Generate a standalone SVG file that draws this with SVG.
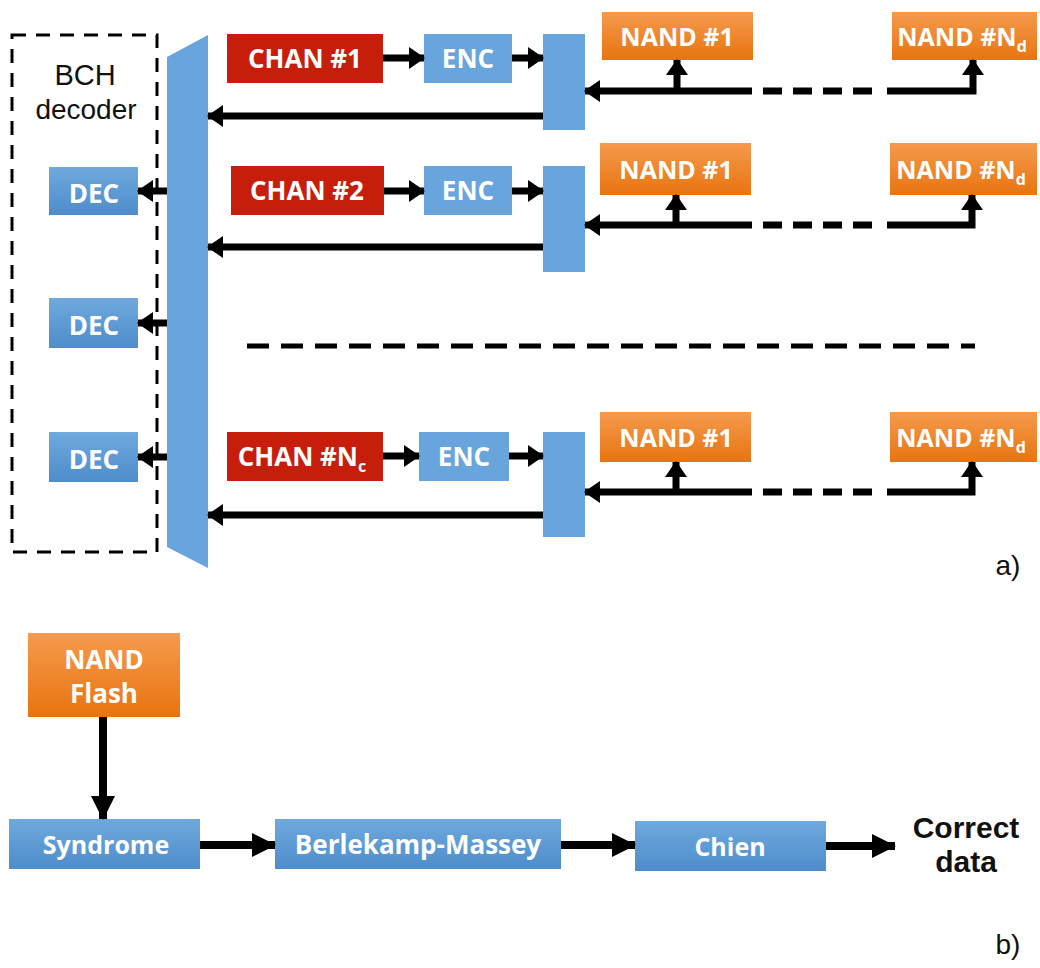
<svg xmlns="http://www.w3.org/2000/svg" width="1040" height="968" viewBox="0 0 1040 968">
  <defs>
    <linearGradient id="gBlue" x1="0" y1="0" x2="0" y2="1">
      <stop offset="0" stop-color="#6fa9dd"/>
      <stop offset="1" stop-color="#4e8dcb"/>
    </linearGradient>
    <linearGradient id="gOrange" x1="0" y1="0" x2="0" y2="1">
      <stop offset="0" stop-color="#f59a4e"/>
      <stop offset="1" stop-color="#e8740f"/>
    </linearGradient>
    <marker id="ah" markerUnits="userSpaceOnUse" markerWidth="16" markerHeight="22" refX="15" refY="11" orient="auto">
      <path d="M0,0 L16,11 L0,22 z" fill="#000"/>
    </marker>
    <marker id="ahBig" markerUnits="userSpaceOnUse" markerWidth="24" markerHeight="24" refX="23" refY="12" orient="auto">
      <path d="M0,0 L24,12 L0,24 z" fill="#000"/>
    </marker>
  </defs>
  <style>
    .blue { fill: url(#gBlue); }
    .flat { fill: #68a5dc; }
    .orange { fill: url(#gOrange); }
    .red { fill: #c71e0c; }
    .lbl { font-family: "Open Sans", "Liberation Sans", sans-serif; font-weight: bold; fill: #fff; text-anchor: middle; }
    .plain { font-family: "Liberation Sans", Arial, sans-serif; fill: #111; text-anchor: middle; }
    .bold { font-family: "Liberation Sans", Arial, sans-serif; font-weight: bold; fill: #111; text-anchor: middle; }
    .arr { stroke: #000; stroke-width: 7; fill: none; marker-end: url(#ah); }
    .arrB { stroke: #000; stroke-width: 8; fill: none; marker-end: url(#ahBig); }
    .dash { stroke: #000; stroke-width: 7; fill: none; stroke-dasharray: 19 11; }
  </style>

  <rect width="1040" height="968" fill="#fff"/>

  <!-- (a) decoder array -->
  <g id="bch-decoder">
    <rect x="12" y="35" width="145" height="517" fill="none" stroke="#000" stroke-width="3" stroke-dasharray="14 10"/>
    <text class="plain" x="85" y="85" font-size="29">BCH</text>
    <text class="plain" x="86" y="119" font-size="28">decoder</text>
  </g>
  <g id="dec1"><rect class="blue" x="49" y="167" width="89" height="48"/><text class="lbl" x="94" y="203" font-size="26">DEC</text></g>
  <g id="dec2"><rect class="blue" x="49" y="298" width="89" height="50"/><text class="lbl" x="94" y="335" font-size="26">DEC</text></g>
  <g id="dec3"><rect class="blue" x="49" y="432" width="89" height="50"/><text class="lbl" x="94" y="469" font-size="26">DEC</text></g>

  <g id="mux">
    <polygon class="flat" points="167,57 208,35 208,568 167,547"/>
  </g>

  <!-- channel 1 -->
  <g id="chan1"><rect class="red" x="227" y="34" width="156" height="49"/><text class="lbl" x="305" y="68" font-size="26">CHAN #1</text></g>
  <g id="enc1"><rect class="flat" x="424" y="34" width="88" height="49"/><text class="lbl" x="468" y="68" font-size="26">ENC</text></g>
  <g id="sel1"><rect class="flat" x="543" y="34" width="42" height="96"/></g>
  <g id="nand1-1"><rect class="orange" x="602" y="12" width="151" height="48"/><text class="lbl" x="677" y="46" font-size="25">NAND #1</text></g>
  <g id="nand1-d"><rect class="orange" x="892" y="12" width="145" height="48"/><text class="lbl" x="962" y="46" font-size="25">NAND #N<tspan font-size="16" dy="6">d</tspan></text></g>

  <!-- channel 2 -->
  <g id="chan2"><rect class="red" x="231" y="166" width="153" height="49"/><text class="lbl" x="307" y="200" font-size="26">CHAN #2</text></g>
  <g id="enc2"><rect class="flat" x="424" y="166" width="88" height="49"/><text class="lbl" x="468" y="200" font-size="26">ENC</text></g>
  <g id="sel2"><rect class="flat" x="543" y="166" width="42" height="106"/></g>
  <g id="nand2-1"><rect class="orange" x="600" y="143" width="151" height="52"/><text class="lbl" x="676" y="179" font-size="25">NAND #1</text></g>
  <g id="nand2-d"><rect class="orange" x="890" y="143" width="147" height="52"/><text class="lbl" x="961" y="179" font-size="25">NAND #N<tspan font-size="16" dy="6">d</tspan></text></g>

  <!-- channel Nc -->
  <g id="chanN"><rect class="red" x="227" y="432" width="156" height="49"/><text class="lbl" x="302" y="466" font-size="26">CHAN #N<tspan font-size="16" dy="6">c</tspan></text></g>
  <g id="encN"><rect class="flat" x="419" y="432" width="90" height="49"/><text class="lbl" x="464" y="466" font-size="26">ENC</text></g>
  <g id="selN"><rect class="flat" x="543" y="432" width="42" height="105"/></g>
  <g id="nandN-1"><rect class="orange" x="600" y="412" width="151" height="50"/><text class="lbl" x="676" y="447" font-size="25">NAND #1</text></g>
  <g id="nandN-d"><rect class="orange" x="890" y="412" width="147" height="50"/><text class="lbl" x="961" y="447" font-size="25">NAND #N<tspan font-size="16" dy="6">d</tspan></text></g>

  <!-- (b) decoding pipeline -->
  <g id="nand-flash"><rect class="orange" x="28" y="633" width="152" height="84"/><text class="lbl" x="104" y="669" font-size="26">NAND</text><text class="lbl" x="104" y="703" font-size="26">Flash</text></g>
  <g id="syndrome"><rect class="blue" x="9" y="819" width="191" height="50"/><text class="lbl" x="106" y="854" font-size="25">Syndrome</text></g>
  <g id="bm"><rect class="blue" x="275" y="819" width="286" height="50"/><text class="lbl" x="418" y="854" font-size="26">Berlekamp-Massey</text></g>
  <g id="chien"><rect class="blue" x="635" y="821" width="191" height="50"/><text class="lbl" x="730" y="856" font-size="25">Chien</text></g>
  <g id="output">
    <text class="bold" x="966" y="838" font-size="30">Correct</text>
    <text class="bold" x="966" y="872" font-size="30">data</text>
  </g>

  <g id="captions">
    <text class="plain" x="1008" y="575" font-size="28">a)</text>
    <text class="plain" x="1008" y="954" font-size="28">b)</text>
  </g>

  <g id="connectors">
    <!-- mux to decoders -->
    <line class="arr" x1="167" y1="191" x2="138" y2="191"/>
    <line class="arr" x1="167" y1="323" x2="138" y2="323"/>
    <line class="arr" x1="167" y1="457" x2="138" y2="457"/>

    <!-- channel 1 -->
    <line class="arr" x1="383" y1="58" x2="424" y2="58"/>
    <line class="arr" x1="512" y1="58" x2="543" y2="58"/>
    <line class="arr" x1="543" y1="116" x2="208" y2="116"/>
    <line class="arr" x1="752" y1="91" x2="585" y2="91"/>
    <line class="dash" x1="763" y1="91" x2="880" y2="91"/>
    <polyline class="arr" points="887,91 973,91 973,60"/>
    <line class="arr" x1="677" y1="91" x2="677" y2="60"/>

    <!-- channel 2 -->
    <line class="arr" x1="384" y1="191" x2="424" y2="191"/>
    <line class="arr" x1="512" y1="191" x2="543" y2="191"/>
    <line class="arr" x1="543" y1="247" x2="208" y2="247"/>
    <line class="arr" x1="752" y1="225" x2="585" y2="225"/>
    <line class="dash" x1="763" y1="225" x2="880" y2="225"/>
    <polyline class="arr" points="887,225 972,225 972,195"/>
    <line class="arr" x1="676" y1="225" x2="676" y2="195"/>

    <!-- row separator -->
    <line x1="247" y1="346" x2="975" y2="346" stroke="#000" stroke-width="5" stroke-dasharray="22 12"/>

    <!-- channel Nc -->
    <line class="arr" x1="383" y1="456" x2="419" y2="456"/>
    <line class="arr" x1="509" y1="456" x2="543" y2="456"/>
    <line class="arr" x1="543" y1="515" x2="208" y2="515"/>
    <line class="arr" x1="752" y1="492" x2="585" y2="492"/>
    <line class="dash" x1="763" y1="492" x2="880" y2="492"/>
    <polyline class="arr" points="887,492 972,492 972,462"/>
    <line class="arr" x1="676" y1="492" x2="676" y2="462"/>

    <!-- pipeline -->
    <line class="arrB" x1="103" y1="717" x2="103" y2="819"/>
    <line class="arrB" x1="200" y1="845" x2="275" y2="845"/>
    <line class="arrB" x1="561" y1="845" x2="635" y2="845"/>
    <line class="arrB" x1="826" y1="846" x2="895" y2="846"/>
  </g>
</svg>
